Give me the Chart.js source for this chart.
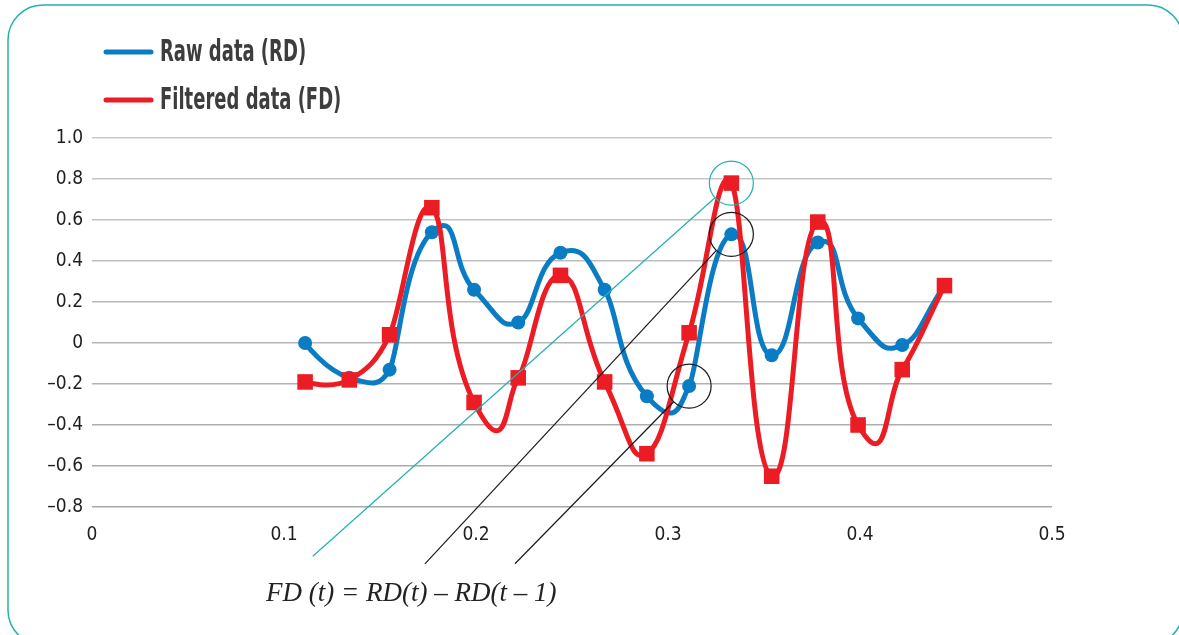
<!DOCTYPE html>
<html>
<head>
<meta charset="utf-8">
<title>Raw vs filtered data</title>
<script src="https://cdn.jsdelivr.net/npm/chart.js@4.4.1/dist/chart.umd.min.js"></script>
<style>
  html, body { margin: 0; padding: 0; background: #fff; }
  #wrap { width: 1179px; height: 635px; }
</style>
</head>
<body>
<div id="wrap"><canvas id="chart" width="1179" height="635"></canvas></div>
<script>
// values
var xValues = [0.111, 0.134, 0.155, 0.177, 0.199, 0.222, 0.244, 0.267, 0.289, 0.311, 0.333, 0.354, 0.378, 0.399, 0.422, 0.444];
var rawData = [0, -0.17, -0.13, 0.54, 0.26, 0.10, 0.44, 0.26, -0.26, -0.21, 0.53, -0.06, 0.49, 0.12, -0.01, 0.28];
var filteredData = [-0.19, -0.18, 0.04, 0.66, -0.29, -0.17, 0.33, -0.19, -0.54, 0.05, 0.78, -0.65, 0.59, -0.40, -0.13, 0.28];
var seriesLabels = ['Raw data (RD)', 'Filtered data (FD)'];
var yTicks = [-0.8, -0.6, -0.4, -0.2, 0, 0.2, 0.4, 0.6, 0.8, 1.0];
var xTicks = [0, 0.1, 0.2, 0.3, 0.4, 0.5];
var formulaText = 'FD (t) = RD(t) \u2013 RD(t \u2013 1)';

var BLUE = '#0a7cc4';
var RED = '#ec1c24';
var TEAL = '#20b2b0';
var NARROW = '"Liberation Sans Narrow", "DejaVu Sans Condensed", "Roboto", sans-serif';
var SMOOTH = 0.5;

function toPoints(ys) {
    return ys.map(function (y, i) { return { x: xValues[i], y: y }; });
}

function fmt(v) {
    if (Math.abs(v) < 1e-9) return '0';
    if (v < 0) return '\u2013' + Math.abs(v).toFixed(1);
    return v.toFixed(1);
}

function dist(a, b) {
    return Math.sqrt((a.x - b.x) * (a.x - b.x) + (a.y - b.y) * (a.y - b.y));
}

// grid gets a bit darker toward the bottom in the original
function gridColor(ctx) {
    var t = ctx.index / (yTicks.length - 1);
    var g = Math.round(166 + (202 - 166) * t);
    return 'rgb(' + g + ',' + g + ',' + g + ')';
}

// rounded teal frame behind everything
var framePlugin = {
    id: 'frame',
    beforeDraw: function (chart) {
        var ctx = chart.ctx;
        ctx.save();
        ctx.fillStyle = '#fff';
        ctx.fillRect(0, 0, chart.width, chart.height);
        ctx.strokeStyle = TEAL;
        ctx.lineWidth = 1.5;
        ctx.beginPath();
        ctx.roundRect(8, 5, 1175, 640, 35);
        ctx.stroke();
        ctx.restore();
    }
};

// office-style smoothing: symmetric tangent, scaled by the incoming segment
var smoothPlugin = {
    id: 'smooth',
    beforeDatasetDraw: function (chart, args) {
        var meta = args.meta;
        var pts = meta.data;
        var n = pts.length;
        for (var i = 0; i < n; i++) {
            var prev = pts[Math.max(i - 1, 0)], cur = pts[i], next = pts[Math.min(i + 1, n - 1)];
            var d01 = dist(prev, cur), d12 = dist(cur, next);
            var f = (d01 + d12) > 0 ? SMOOTH * d01 / (d01 + d12) : 0;
            var tx = (next.x - prev.x) * f, ty = (next.y - prev.y) * f;
            cur.cp1x = cur.x - tx;
            cur.cp1y = cur.y - ty;
            cur.cp2x = cur.x + tx;
            cur.cp2y = cur.y + ty;
        }
        meta.dataset._pointsUpdated = true;
        meta.dataset._path = undefined;
    }
};

// circles + leader lines + formula
var notePlugin = {
    id: 'notes',
    afterDatasetsDraw: function (chart) {
        var ctx = chart.ctx;
        var xs = chart.scales.x, ys = chart.scales.y;
        var notes = [
            { color: TEAL, x: xValues[10], y: filteredData[10], fromX: 0.115, fromY: -1.04 },
            { color: '#1a1a1a', x: xValues[10], y: rawData[10], fromX: 0.1734, fromY: -1.077 },
            { color: '#1a1a1a', x: xValues[9], y: rawData[9], fromX: 0.2203, fromY: -1.077 }
        ];
        var r = 22;
        ctx.save();
        ctx.lineWidth = 1.2;
        notes.forEach(function (n) {
            var cx = xs.getPixelForValue(n.x), cy = ys.getPixelForValue(n.y);
            var fx = xs.getPixelForValue(n.fromX), fy = ys.getPixelForValue(n.fromY);
            var dx = fx - cx, dy = fy - cy, d = Math.sqrt(dx * dx + dy * dy);
            ctx.strokeStyle = n.color;
            ctx.beginPath();
            ctx.arc(cx, cy, r, 0, Math.PI * 2);
            ctx.stroke();
            ctx.beginPath();
            ctx.moveTo(fx, fy);
            ctx.lineTo(cx + dx / d * r, cy + dy / d * r);
            ctx.stroke();
        });
        ctx.fillStyle = '#222';
        ctx.font = 'italic 27px "Liberation Serif", "DejaVu Serif", serif';
        ctx.textBaseline = 'alphabetic';
        ctx.textAlign = 'left';
        ctx.fillText(formulaText, 266, 601);
        ctx.restore();
    }
};

// legend stacked in two rows, top left
var legendPlugin = {
    id: 'stackLegend',
    afterDraw: function (chart) {
        var ctx = chart.ctx;
        var colors = [BLUE, RED];
        ctx.save();
        seriesLabels.forEach(function (label, i) {
            var y = 52 + i * 48;
            ctx.strokeStyle = colors[i];
            ctx.lineWidth = 5;
            ctx.lineCap = 'round';
            ctx.beginPath();
            ctx.moveTo(106, y);
            ctx.lineTo(151, y);
            ctx.stroke();
            ctx.save();
            ctx.translate(160, y);
            ctx.scale(0.645, 1);
            ctx.fillStyle = '#3d3d3d';
            ctx.font = 'bold 31px ' + NARROW;
            ctx.textBaseline = 'middle';
            ctx.fillText(label, 0, 1);
            ctx.restore();
        });
        ctx.restore();
    }
};

var tickFont = { family: NARROW, size: 19 };

var chart = new Chart(document.getElementById('chart'), {
    type: 'line',
    data: {
        datasets: [{
            label: seriesLabels[1],
            data: toPoints(filteredData),
            borderColor: RED,
            backgroundColor: RED,
            borderWidth: 5,
            tension: 0.4,
            pointStyle: 'rect',
            pointRadius: 11,
            pointBorderWidth: 0,
            order: 0
        }, {
            label: seriesLabels[0],
            data: toPoints(rawData),
            borderColor: BLUE,
            backgroundColor: BLUE,
            borderWidth: 5,
            tension: 0.4,
            pointStyle: 'circle',
            pointRadius: 7,
            pointBorderWidth: 0,
            order: 1
        }]
    },
    options: {
        responsive: false,
        animation: false,
        layout: { padding: { top: 138, right: 127, bottom: 0, left: 0 } },
        plugins: {
            legend: { display: false },
            tooltip: { enabled: false }
        },
        scales: {
            x: {
                type: 'linear',
                min: xTicks[0],
                max: xTicks[xTicks.length - 1],
                afterBuildTicks: function (s) { s.ticks = xTicks.map(function (v) { return { value: v }; }); },
                grid: { display: false },
                border: { display: false },
                ticks: {
                    padding: 9,
                    color: '#1e1e1e',
                    font: tickFont,
                    maxRotation: 0,
                    callback: function (v) { return v === 0 ? '0' : v.toFixed(1); }
                },
                afterFit: function (s) { s.height = 128; }
            },
            y: {
                min: yTicks[0],
                max: yTicks[yTicks.length - 1],
                afterBuildTicks: function (s) { s.ticks = yTicks.map(function (v) { return { value: v }; }); },
                grid: { color: gridColor, lineWidth: 1.5, drawTicks: false },
                border: { display: false },
                ticks: {
                    padding: 9,
                    color: '#1e1e1e',
                    font: tickFont,
                    callback: function (v) { return fmt(v); }
                },
                afterFit: function (s) { s.width = 92; }
            }
        }
    },
    plugins: [framePlugin, smoothPlugin, notePlugin, legendPlugin]
});
</script>
</body>
</html>
